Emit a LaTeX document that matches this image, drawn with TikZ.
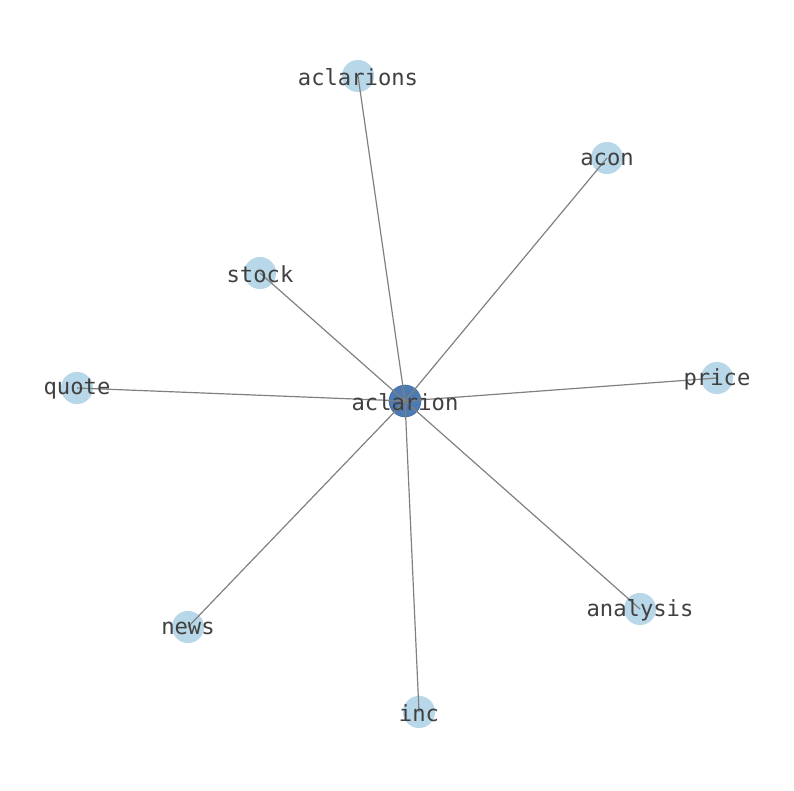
\documentclass[tikz,border=0pt]{standalone}
\usepackage{fontspec}
\setmonofont{DejaVu Sans Mono}
\usetikzlibrary{positioning}

\definecolor{leafblue}{RGB}{166,206,227}
\definecolor{hubblue}{RGB}{31,90,160}
\definecolor{labelgray}{RGB}{64,64,64}

\begin{document}
\begin{tikzpicture}[x=0.02646cm, y=-0.02646cm,
    leaf/.style={circle, fill=leafblue, fill opacity=0.8, inner sep=0pt, minimum size=0.85cm},
    hub/.style={circle, fill=hubblue, fill opacity=0.8, draw=hubblue!80!black, draw opacity=0.5, inner sep=0pt, minimum size=0.85cm},
    word/.style={text=labelgray, font=\ttfamily\fontsize{16.7}{16.7}\selectfont},
    link/.style={draw=gray, line width=0.9pt}]
    \useasboundingbox (0,0) rectangle (794,790);

    % node dots
    \node[hub] (aclarion) at (405,401) {};
    \node[leaf] (aclarions) at (358,76) {};
    \node[leaf] (acon) at (607,158) {};
    \node[leaf] (stock) at (260,273) {};
    \node[leaf] (quote) at (77,388) {};
    \node[leaf] (price) at (717,378) {};
    \node[leaf] (news) at (188,627) {};
    \node[leaf] (analysis) at (640,609) {};
    \node[leaf] (inc) at (419,712) {};

    % edges
    \foreach \n in {aclarions, acon, stock, quote, price, news, analysis, inc}
        \draw[link] (aclarion.center) -- (\n.center);

    % labels
    \foreach \n in {aclarion, aclarions, acon, stock, quote, price, news, analysis, inc}
        \node[word] at ([yshift=-1pt]\n) {\n};
\end{tikzpicture}
\end{document}
